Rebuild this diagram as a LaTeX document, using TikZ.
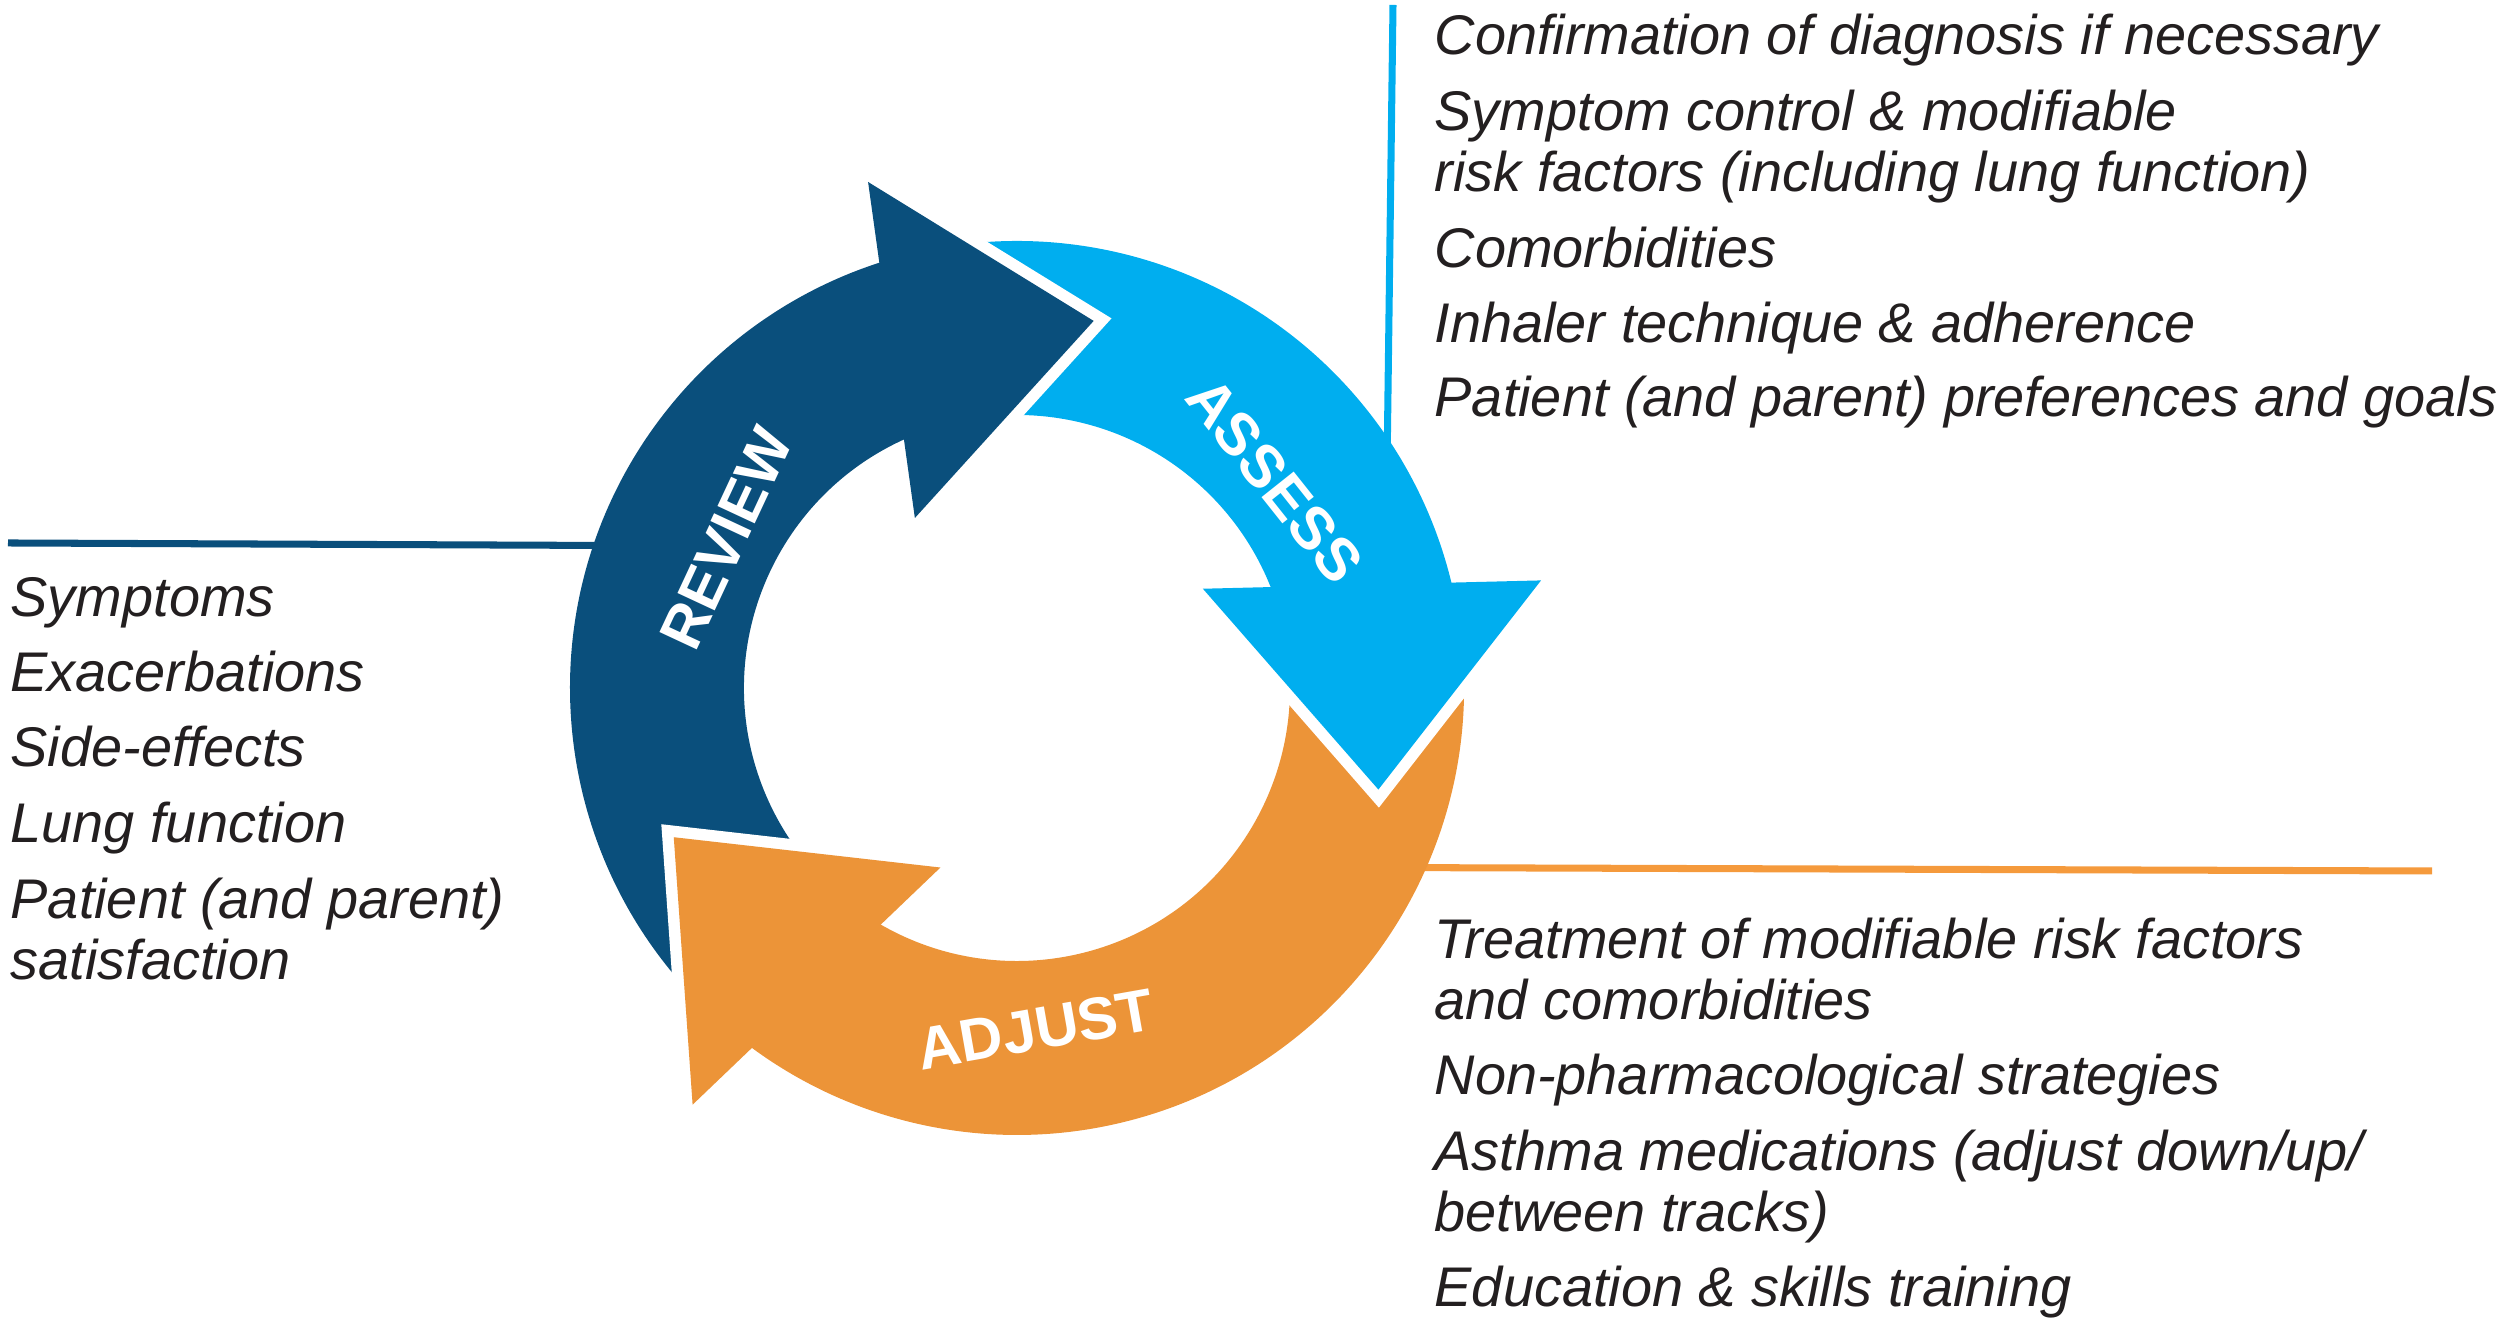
\documentclass[tikz,border=0pt]{standalone}
\usepackage{fontspec}
\setmainfont{Liberation Sans}
\usepackage{tikz}
\usetikzlibrary{positioning,calc}
\definecolor{revblue}{HTML}{0A4F7C}
\definecolor{assblue}{HTML}{00AEEF}
\definecolor{adjorange}{HTML}{EC9438}
\definecolor{adjline}{HTML}{F59A3C}
\definecolor{txtgray}{HTML}{231F20}

\begin{document}
\begin{tikzpicture}[x=0.1mm, y=0.1mm,
        item/.style={font=\fontsize{15.9}{17.6}\selectfont\itshape, text=txtgray,
            inner sep=0pt, align=left, anchor=base west},
        band/.style={font=\fontsize{17}{20}\selectfont\bfseries, text=white, inner sep=0pt},
        rule/.style={line width=2pt},
        gap/.style={draw=white, line width=2.3mm, miter limit=10}]
        \useasboundingbox (0,0) rectangle (2508,1325);
        \coordinate (c) at (1017,637);
        \coordinate (rl) at (8,782);
        \coordinate (al) at (1393,1320);
        \coordinate (dl) at (2432,454);
        % rules out to the three lists
        \draw[rule, revblue] (rl) -- ($(c)+(161.1:440)$);
        \draw[rule, assblue] (al) -- ($(c)+(32.7:440)$);
        \draw[rule, adjline] (dl) -- ($(c)+(-24.1:440)$);
        \begin{scope}[shift={(c)}]
            % bodies of the three arrows (each runs a little under the heads)
            \fill[revblue] (231:447) arc[start angle=231, end angle=106, radius=447]
                -- (112:273) arc[start angle=112, end angle=237, radius=273] -- cycle;
            \fill[assblue] (106:447) arc[start angle=106, end angle=11, radius=447]
                -- (19:273) arc[start angle=19, end angle=112, radius=273] -- cycle;
            \fill[adjorange] (11:447) arc[start angle=11, end angle=-129, radius=447]
                -- (-123:273) arc[start angle=-123, end angle=19, radius=273] -- cycle;
            % heads, with a white gap round each tip
            \draw[gap] (106.4:527.5) -- (78.2:375) -- (121:198.3);
            \fill[revblue] (106.4:527.5) -- (78.2:375) -- (121:198.3) -- cycle;
            \draw[gap] (11.6:535) -- (-15.7:375.4) -- (28.1:210.7);
            \fill[assblue] (11.6:535) -- (-15.7:375.4) -- (28.1:210.7) -- cycle;
            \draw[gap] (232.1:528.1) -- (203.5:374.3) -- (246.9:195.2);
            \fill[adjorange] (232.1:528.1) -- (203.5:374.3) -- (246.9:195.2) -- cycle;
            \node[band, rotate=65] (rev) at (152.8:327) {REVIEW};
            \node[band, rotate=-51.5] (ass) at (38.9:331) {ASSESS};
            \node[band, rotate=10] (adj) at (-86.9:342) {ADJUST};
        \end{scope}
        % review list
        \node[item] (r1) at (10,708) {Symptoms};
        \node[item, below=7.5mm of r1.base west, anchor=base west] (r2) {Exacerbations};
        \node[item, below=7.5mm of r2.base west, anchor=base west] (r3) {Side-effects};
        \node[item, below=7.6mm of r3.base west, anchor=base west] (r4) {Lung function};
        \node[item, below=13.7mm of r4.base west, anchor=base west] (r5) {Patient (and parent)\\satisfaction};
        % assess list
        \node[item] (a1) at (1434,1270) {Confirmation of diagnosis if necessary};
        \node[item, below=13.7mm of a1.base west, anchor=base west] (a2) {Symptom control \& modifiable\\risk factors (including lung function)};
        \node[item, below=7.6mm of a2.base west, anchor=base west] (a3) {Comorbidities};
        \node[item, below=7.5mm of a3.base west, anchor=base west] (a4) {Inhaler technique \& adherence};
        \node[item, below=7.4mm of a4.base west, anchor=base west] (a5) {Patient (and parent) preferences and goals};
        % adjust list
        \node[item] (d1) at (1434,305) {Treatment of modifiable risk factors\\and comorbidities};
        \node[item, below=7.5mm of d1.base west, anchor=base west] (d2) {Non-pharmacological strategies};
        \node[item, below=13.7mm of d2.base west, anchor=base west] (d3) {Asthma medications (adjust down/up/\\between tracks)};
        \node[item, below=7.5mm of d3.base west, anchor=base west] (d4) {Education \& skills training};
\end{tikzpicture}
\end{document}
